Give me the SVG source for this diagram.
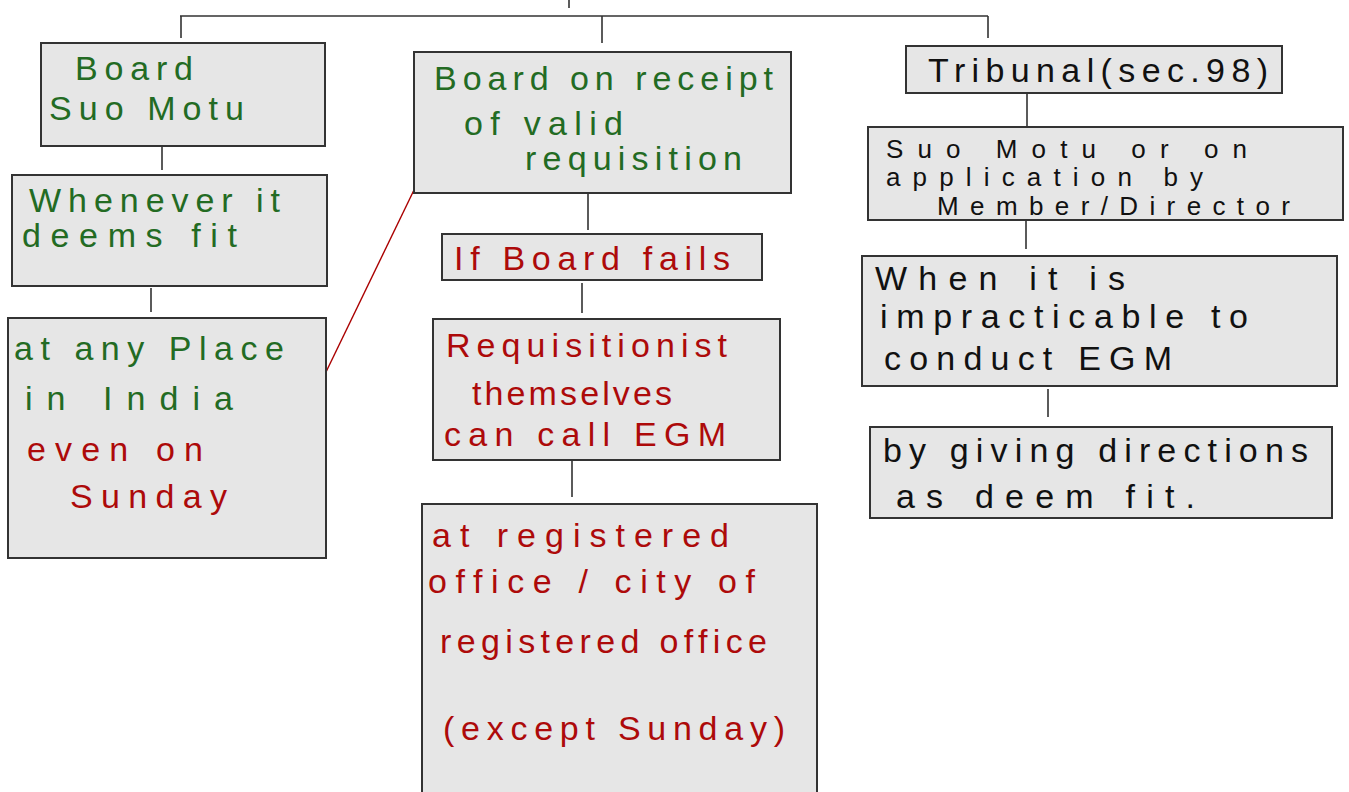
<svg xmlns="http://www.w3.org/2000/svg" width="1349" height="792" viewBox="0 0 1349 792">
<style>
.box{fill:#e6e6e6;stroke:#333;stroke-width:2}
.ln{stroke:#333;stroke-width:1.6;fill:none}
text{font-family:"Liberation Sans","DejaVu Sans",sans-serif;font-size:34px}
.s{font-size:26px}
.g{fill:#236b23}
.r{fill:#ad0a0a}
.k{fill:#111}
</style>
<rect width="1349" height="792" fill="#fff"/>
<g id="connectors">
<path class="ln" d="M569 0V8M180 16H988M181 16V38M602 16V43M988 16V38"/>
<path class="ln" d="M162 146V170M151 288V312"/>
<path class="ln" d="M588 193V230M582 283V313M572 460V497"/>
<path class="ln" d="M1027 93V126M1026 220V249M1048 389V417"/>
<path d="M414 190L326 372" stroke="#a00" stroke-width="1.4" fill="none"/>
</g>
<g id="n1"><rect class="box" x="41" y="43" width="284" height="103"/>
<text class="g" x="75" y="80" textLength="118" lengthAdjust="spacing">Board</text>
<text class="g" x="49" y="120" textLength="195" lengthAdjust="spacing">Suo Motu</text></g>
<g id="n2"><rect class="box" x="12" y="175" width="315" height="111"/>
<text class="g" x="29" y="212" textLength="251" lengthAdjust="spacing">Whenever it</text>
<text class="g" x="22" y="247" textLength="215" lengthAdjust="spacing">deems fit</text></g>
<g id="n3"><rect class="box" x="8" y="318" width="318" height="240"/>
<text class="g" x="14" y="360" textLength="270" lengthAdjust="spacing">at any Place</text>
<text class="g" x="25" y="410" textLength="208" lengthAdjust="spacing">in India</text>
<text class="r" x="27" y="461" textLength="176" lengthAdjust="spacing">even on</text>
<text class="r" x="70" y="508" textLength="157" lengthAdjust="spacing">Sunday</text></g>
<g id="n4"><rect class="box" x="414" y="52" width="377" height="141"/>
<text class="g" x="434" y="90" textLength="339" lengthAdjust="spacing">Board on receipt</text>
<text class="g" x="464" y="135" textLength="159" lengthAdjust="spacing">of valid</text>
<text class="g" x="525" y="170" textLength="217" lengthAdjust="spacing">requisition</text></g>
<g id="n5"><rect class="box" x="442" y="234" width="320" height="46"/>
<text class="r" x="454" y="270" textLength="276" lengthAdjust="spacing">If Board fails</text></g>
<g id="n6"><rect class="box" x="433" y="319" width="347" height="141"/>
<text class="r" x="446" y="357" textLength="281" lengthAdjust="spacing">Requisitionist</text>
<text class="r" x="472" y="405" textLength="200" lengthAdjust="spacing">themselves</text>
<text class="r" x="444" y="446" textLength="282" lengthAdjust="spacing">can call EGM</text></g>
<g id="n7"><rect class="box" x="422" y="504" width="395" height="300"/>
<text class="r" x="432" y="547" textLength="297" lengthAdjust="spacing">at registered</text>
<text class="r" x="428" y="593" textLength="327" lengthAdjust="spacing">office / city of</text>
<text class="r" x="440" y="653" textLength="327" lengthAdjust="spacing">registered office</text>
<text class="r" x="443" y="740" textLength="342" lengthAdjust="spacing">(except Sunday)</text></g>
<g id="n8"><rect class="box" x="906" y="46" width="376" height="47"/>
<text class="k" x="928" y="82" textLength="340" lengthAdjust="spacing">Tribunal(sec.98)</text></g>
<g id="n9"><rect class="box" x="868" y="127" width="475" height="93"/>
<text class="k s" x="886" y="158" textLength="361" lengthAdjust="spacing">Suo Motu or on</text>
<text class="k s" x="886" y="186" textLength="317" lengthAdjust="spacing">application by</text>
<text class="k s" x="937" y="215" textLength="353" lengthAdjust="spacing">Member/Director</text></g>
<g id="n10"><rect class="box" x="862" y="256" width="475" height="130"/>
<text class="k" x="875" y="290" textLength="250" lengthAdjust="spacing">When it is</text>
<text class="k" x="880" y="328" textLength="368" lengthAdjust="spacing">impracticable to</text>
<text class="k" x="884" y="370" textLength="288" lengthAdjust="spacing">conduct EGM</text></g>
<g id="n11"><rect class="box" x="870" y="427" width="462" height="91"/>
<text class="k" x="883" y="462" textLength="425" lengthAdjust="spacing">by giving directions</text>
<text class="k" x="896" y="508" textLength="299" lengthAdjust="spacing">as deem fit.</text></g>
</svg>
